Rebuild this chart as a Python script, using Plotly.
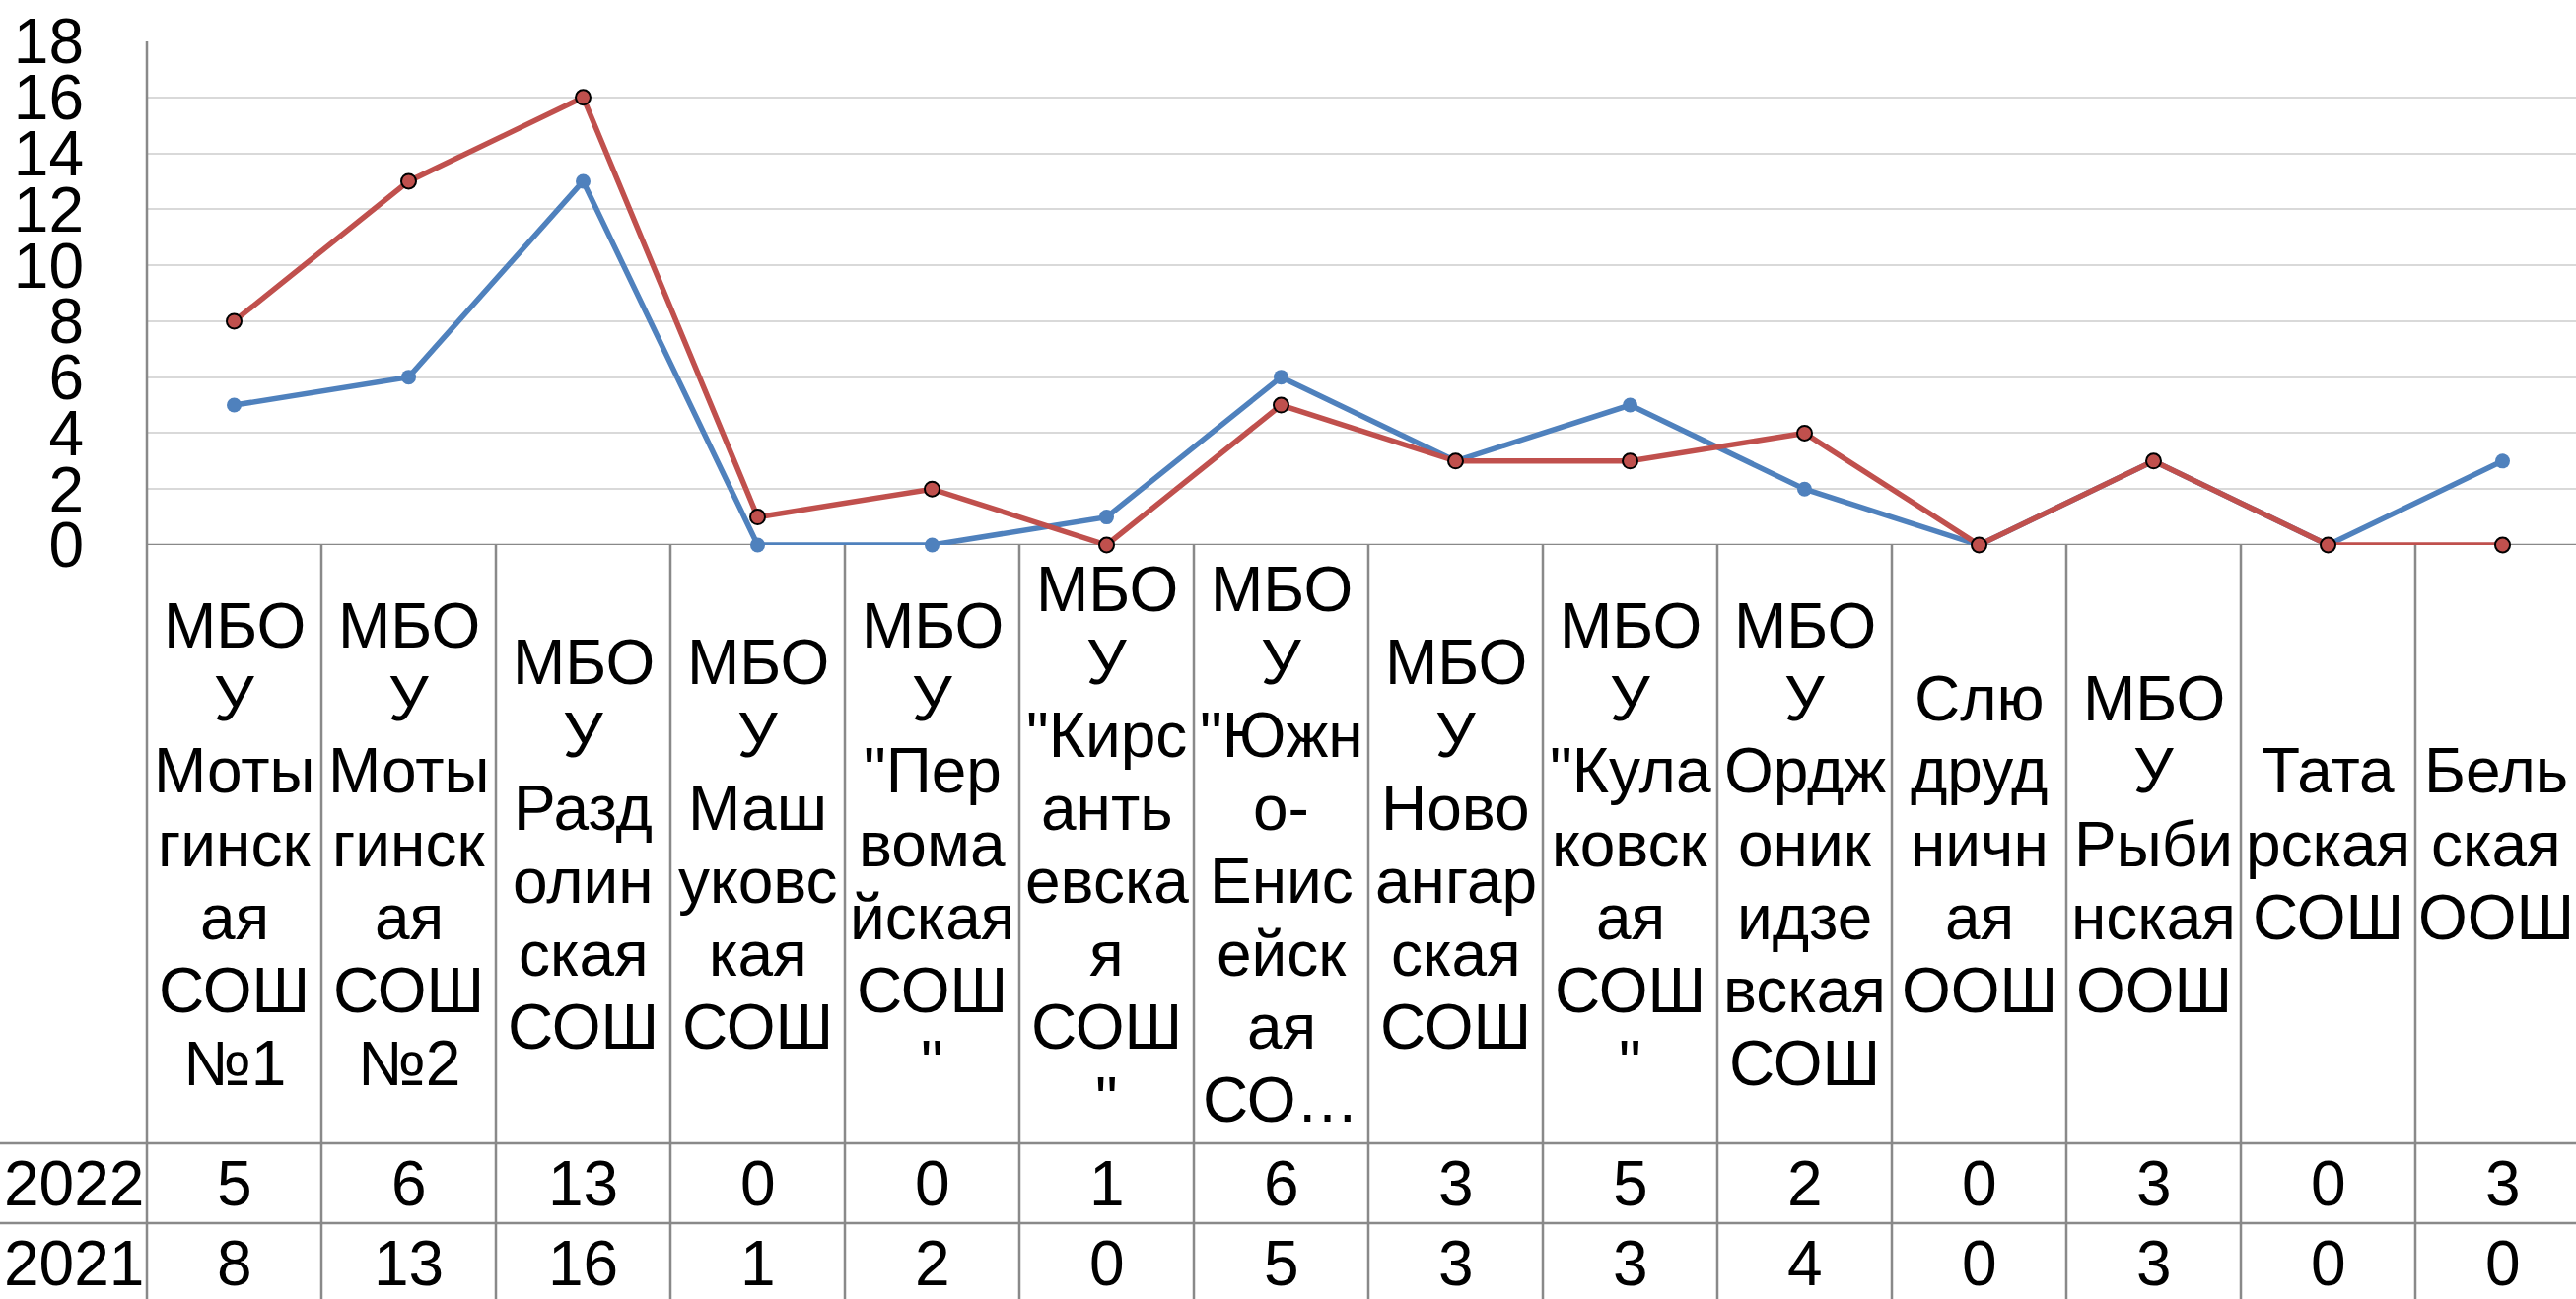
import plotly.graph_objects as go

W, H = 2613, 1318

categories = [
    ["МБО", "У", "Моты", "гинск", "ая", "СОШ", "№1"],
    ["МБО", "У", "Моты", "гинск", "ая", "СОШ", "№2"],
    ["МБО", "У", "Разд", "олин", "ская", "СОШ"],
    ["МБО", "У", "Маш", "уковс", "кая", "СОШ"],
    ["МБО", "У", "\"Пер", "вома", "йская", "СОШ", "\""],
    ["МБО", "У", "\"Кирс", "анть", "евска", "я", "СОШ", "\""],
    ["МБО", "У", "\"Южн", "о-", "Енис", "ейск", "ая", "СО…"],
    ["МБО", "У", "Ново", "ангар", "ская", "СОШ"],
    ["МБО", "У", "\"Кула", "ковск", "ая", "СОШ", "\""],
    ["МБО", "У", "Ордж", "оник", "идзе", "вская", "СОШ"],
    ["Слю", "друд", "ничн", "ая", "ООШ"],
    ["МБО", "У", "Рыби", "нская", "ООШ"],
    ["Тата", "рская", "СОШ"],
    ["Бель", "ская", "ООШ"],
]
series_names = ["2022", "2021"]
values_2022 = [5, 6, 13, 0, 0, 1, 6, 3, 5, 2, 0, 3, 0, 3]
values_2021 = [8, 13, 16, 1, 2, 0, 5, 3, 3, 4, 0, 3, 0, 0]
y_ticks = list(range(0, 19, 2))

# layout geometry (pixels)
left = 149
plot_top = 42
plot_bottom = 553
row1 = 1160
row2 = 1241
col_w = 177
line_h = 74
font_fam = "Liberation Sans, Arial, sans-serif"
fs = 64
grid_c = "#D9D9D9"
border_c = "#898989"
blue = "#4F81BD"
red = "#C0504D"

def py(p):
    return 1 - p / H

n = len(categories)
xs = list(range(n))
x_max = -0.5 + (W - left) / col_w

fig = go.Figure()
fig.add_trace(go.Scatter(
    x=xs, y=values_2022, name=series_names[0], mode="lines+markers",
    line=dict(color=blue, width=5.5),
    marker=dict(color=blue, size=15, line=dict(width=0)),
    cliponaxis=False,
))
fig.add_trace(go.Scatter(
    x=xs, y=values_2021, name=series_names[1], mode="lines+markers",
    line=dict(color=red, width=5.5),
    marker=dict(color=red, size=15, line=dict(color="#000000", width=2)),
    cliponaxis=False,
))

shapes = []
# bottom axis line at 0
shapes.append(dict(type="line", xref="paper", yref="y", x0=left / W, x1=1, y0=0, y1=0,
                   line=dict(color=border_c, width=2.5), layer="below"))
# left axis line through the table
shapes.append(dict(type="line", xref="paper", yref="paper", x0=left / W, x1=left / W,
                   y0=py(plot_top), y1=0, line=dict(color=border_c, width=2.5)))
# column separators in table
for k in range(1, n + 1):
    shapes.append(dict(type="line", xref="x", yref="paper", x0=k - 0.5, x1=k - 0.5,
                       y0=py(plot_bottom), y1=0, line=dict(color=border_c, width=2.5)))
# row lines
for r in (row1, row2):
    shapes.append(dict(type="line", xref="paper", yref="paper", x0=0, x1=1,
                       y0=py(r), y1=py(r), line=dict(color=border_c, width=2.5)))

annotations = []
cell_mid = (plot_bottom + row1) / 2
for k, lines in enumerate(categories):
    m = len(lines)
    # center label within the visible part of its column
    xc = (k - 0.5 + min(k + 0.5, x_max)) / 2
    for i, t in enumerate(lines):
        yp = cell_mid + (i - (m - 1) / 2) * line_h
        annotations.append(dict(x=xc, y=py(yp), xref="x", yref="paper", text=t,
                                showarrow=False, xanchor="center", yanchor="middle",
                                font=dict(family=font_fam, size=fs, color="black")))
r1_mid = (row1 + row2) / 2
r2_mid = row2 + (row2 - row1) / 2
for yp, name, vals in ((r1_mid, series_names[0], values_2022), (r2_mid, series_names[1], values_2021)):
    annotations.append(dict(x=(left / 2) / W, y=py(yp), xref="paper", yref="paper", text=name,
                            showarrow=False, xanchor="center", yanchor="middle",
                            font=dict(family=font_fam, size=fs, color="black")))
    for k, v in enumerate(vals):
        annotations.append(dict(x=k, y=py(yp), xref="x", yref="paper", text=str(v),
                                showarrow=False, xanchor="center", yanchor="middle",
                                font=dict(family=font_fam, size=fs, color="black")))

fig.update_layout(
    width=W, height=H,
    margin=dict(l=0, r=0, t=0, b=0, autoexpand=False),
    paper_bgcolor="white", plot_bgcolor="white",
    showlegend=False,
    xaxis=dict(domain=[left / W, 1], range=[-0.5, x_max],
               showgrid=False, zeroline=False, showticklabels=False, showline=False, ticks=""),
    yaxis=dict(domain=[py(plot_bottom), py(plot_top)], range=[0, 18],
               tickvals=y_ticks, showgrid=True, gridcolor=grid_c, gridwidth=2,
               zeroline=False, showline=False, ticks="", ticklabelstandoff=63,
               tickfont=dict(family=font_fam, size=fs, color="black")),
    shapes=shapes,
    annotations=annotations,
)

fig.write_html(
    "out.html",
    config={"displayModeBar": False},
    post_script="document.body.style.margin='0px';document.body.style.overflow='hidden';",
)
